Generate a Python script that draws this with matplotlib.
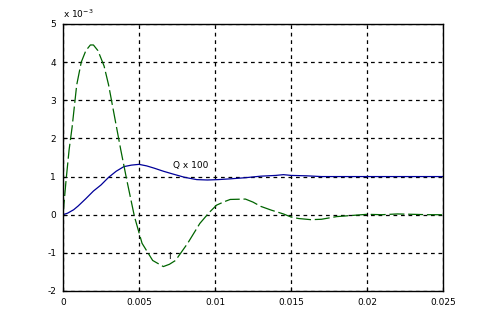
import matplotlib
matplotlib.use("Agg")
import matplotlib.pyplot as plt

plt.rcParams["axes.unicode_minus"] = False

# Q x 100 (blue) and I (green, dashed), values in units of 1e-3
tQ = [0, 0.0003, 0.0007, 0.001, 0.0015, 0.002, 0.0025, 0.003, 0.0035, 0.004, 0.0045, 0.005,
      0.0055, 0.006, 0.0066, 0.0072, 0.008, 0.0088, 0.0095, 0.0102, 0.011, 0.012, 0.013,
      0.014, 0.0145, 0.015, 0.016, 0.017, 0.018, 0.02, 0.025]
Q = [0, 0.04, 0.13, 0.23, 0.42, 0.62, 0.78, 0.98, 1.14, 1.26, 1.3, 1.32,
     1.28, 1.22, 1.14, 1.07, 0.98, 0.92, 0.91, 0.92, 0.94, 0.97, 1.01,
     1.03, 1.05, 1.03, 1.02, 1.0, 1.0, 1.0, 1.0]

tI = [0, 0.0002, 0.0004, 0.0006, 0.0009, 0.0012, 0.0015, 0.0018, 0.002, 0.0023, 0.0027,
      0.003, 0.0034, 0.0038, 0.0042, 0.0047, 0.0052, 0.0059, 0.0066, 0.007, 0.0074,
      0.0082, 0.009, 0.0096, 0.0101, 0.0106, 0.011, 0.012, 0.0125, 0.013, 0.0137,
      0.0145, 0.015, 0.0155, 0.0163, 0.017, 0.018, 0.019, 0.02, 0.021, 0.022,
      0.023, 0.024, 0.025]
I = [0, 0.9, 1.7, 2.3, 3.4, 4.0, 4.3, 4.45, 4.45, 4.3, 3.9,
     3.4, 2.55, 1.7, 0.9, -0.05, -0.75, -1.2, -1.36, -1.3, -1.2,
     -0.75, -0.23, 0.05, 0.25, 0.34, 0.4, 0.41, 0.33, 0.22, 0.12,
     0.02, -0.06, -0.1, -0.13, -0.12, -0.05, -0.02, 0.01, 0.0, 0.02,
     0.01, 0.0, 0.0]

fig = plt.figure(figsize=(4.9, 3.26), dpi=100)
ax = fig.add_axes([0.1286, 0.1074, 0.7755, 0.8190])

ax.plot(tQ, Q, color="#000099", lw=0.9)
ax.plot(tI, I, color="#006400", lw=0.9, ls=(0, (12, 3)))

ax.set_xlim(0, 0.025)
ax.set_ylim(-2, 5)
ax.set_xticks([0, 0.005, 0.01, 0.015, 0.02, 0.025])
ax.set_xticklabels(["0", "0.005", "0.01", "0.015", "0.02", "0.025"])
ax.set_yticks(range(-2, 6))
ax.tick_params(labelsize=6.5, direction="in", length=3, width=0.8, pad=5)
ax.grid(True, color="black", ls=(0, (3, 3)), lw=0.9)
for s in ax.spines.values():
    s.set_linewidth(1.0)

ax.text(0.00724, 1.28, "Q x 100", fontsize=6.5, va="center")
ax.text(0.0069, -1.1, "I", fontsize=6.5, va="center")
fig.text(63 / 490, 1 - 14 / 326, r"x 10$^{-3}$", fontsize=6.5, va="center")

fig.savefig("out.png", dpi=100)
